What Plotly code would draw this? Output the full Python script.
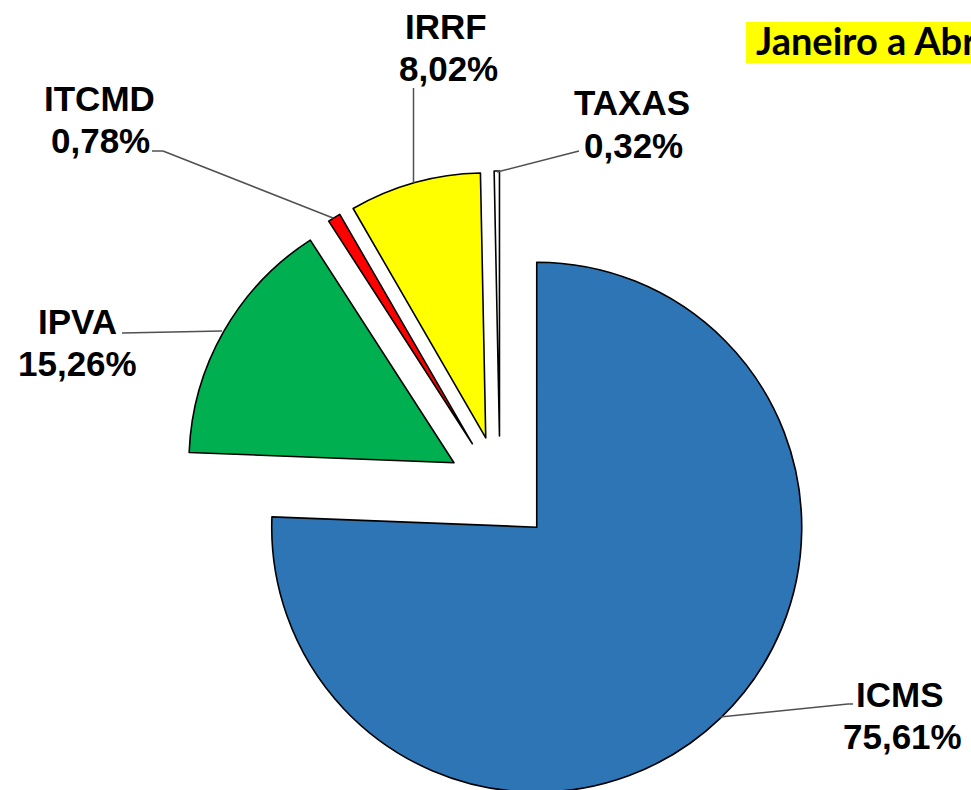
import plotly.graph_objects as go

# ---- data ----
categories = ["ICMS", "IPVA", "ITCMD", "IRRF", "TAXAS"]
values = [75.61, 15.26, 0.78, 8.02, 0.32]
pct_labels = ["75,61%", "15,26%", "0,78%", "8,02%", "0,32%"]
colors = ["#2E75B6", "#00B050", "#FF0000", "#FFFF00", "#FFFFFF"]
title_text = "Janeiro a Abril"

W, H = 971, 810


def px(x):
    return x / W


def py(y):
    return 1 - y / H


fig = go.Figure()
fig.add_trace(go.Pie(
    labels=categories,
    values=values,
    sort=False,
    direction="clockwise",
    rotation=0,
    pull=[0.2] * len(values),
    marker=dict(colors=colors, line=dict(color="#000000", width=1.6)),
    textinfo="none",
    hoverinfo="label+percent",
    showlegend=False,
    domain=dict(x=[px(182), px(818)], y=[py(807), py(171)]),
))

# label positions (pixel centres)
label_pos = {
    "ICMS": ((900, 694), (902, 736)),
    "IPVA": ((77, 321), (77, 363)),
    "ITCMD": ((99, 98), (100, 140)),
    "IRRF": ((446, 26), (448, 69)),
    "TAXAS": ((631.5, 102.5), (633, 145)),
}
lab_font = dict(family="Liberation Sans, Arial, sans-serif", size=35, color="#000000")
annotations = []
for cat, pct in zip(categories, pct_labels):
    (nx, ny), (vx, vy) = label_pos[cat]
    annotations.append(dict(x=px(nx), y=py(ny), xref="paper", yref="paper",
                            text="<b>%s</b>" % cat, showarrow=False,
                            xanchor="center", yanchor="middle", font=lab_font))
    annotations.append(dict(x=px(vx), y=py(vy), xref="paper", yref="paper",
                            text="<b>%s</b>" % pct, showarrow=False,
                            xanchor="center", yanchor="middle", font=lab_font))

annotations.append(dict(x=px(754), y=py(40), xref="paper", yref="paper",
                        text="<b>%s</b>" % title_text, showarrow=False,
                        xanchor="left", yanchor="middle",
                        font=dict(family="Lato, sans-serif", size=38, color="#000000")))

shapes = [dict(type="rect", xref="paper", yref="paper",
               x0=px(746), x1=px(1000), y0=py(63), y1=py(22),
               fillcolor="#FFFF00", line=dict(width=0), layer="below")]

leader_lines = [
    [(413.5, 88), (413.5, 183)],
    [(497, 172), (579, 151)],
    [(152, 151), (163, 151), (333, 218)],
    [(122, 333), (222, 331)],
    [(720, 717), (848, 704), (853, 704)],
]
for pts in leader_lines:
    for (x0, y0), (x1, y1) in zip(pts[:-1], pts[1:]):
        shapes.append(dict(type="line", xref="paper", yref="paper",
                           x0=px(x0), y0=py(y0), x1=px(x1), y1=py(y1),
                           line=dict(color="#505050", width=1.5)))

fig.update_layout(
    width=W, height=H,
    margin=dict(l=0, r=0, t=0, b=0),
    paper_bgcolor="#FFFFFF",
    plot_bgcolor="#FFFFFF",
    annotations=annotations,
    shapes=shapes,
)

fig.write_html("out.html",
               config={"displayModeBar": False},
               post_script="document.body.style.margin='0';document.body.style.overflow='hidden';")
